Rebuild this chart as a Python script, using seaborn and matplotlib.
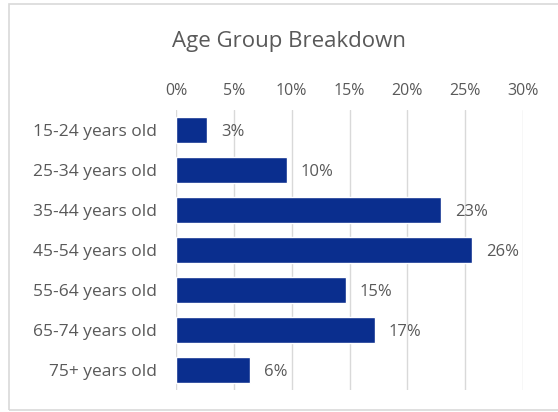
import pandas as pd
import matplotlib.pyplot as plt
import seaborn as sns
from matplotlib.patches import Rectangle

age_groups = ["15-24 years old", "25-34 years old", "35-44 years old",
              "45-54 years old", "55-64 years old", "65-74 years old",
              "75+ years old"]
shares = [2.7, 9.6, 22.9, 25.6, 14.7, 17.2, 6.4]
share_labels = ["3%", "10%", "23%", "26%", "15%", "17%", "6%"]
x_ticks = [0, 5, 10, 15, 20, 25, 30]

df = pd.DataFrame({"group": age_groups, "share": shares})

sns.set_style("white")
plt.rcParams['font.family'] = ['Open Sans', 'DejaVu Sans']

text_color = "#595959"
bar_color = "#0A2E8E"

fig = plt.figure(figsize=(5.58, 4.12), dpi=100)
ax = fig.add_axes([176 / 558, 1 - 390 / 412, 347 / 558, 280 / 412])

sns.barplot(data=df, x="share", y="group", orient="h", color=bar_color,
            saturation=1, width=0.65, ax=ax, zorder=3)

ax.set_xlim(0, 30)
ax.set_xticks(x_ticks)
ax.set_xticklabels([f"{t}%" for t in x_ticks])
ax.xaxis.tick_top()
ax.grid(axis="x", color="#d9d9d9", linewidth=1, zorder=0)
ax.set_axisbelow(True)
for s in ax.spines.values():
    s.set_visible(False)
ax.tick_params(axis="both", length=0, colors=text_color)
ax.tick_params(axis="x", pad=8, labelsize=11.5)
ax.tick_params(axis="y", pad=14, labelsize=12.5)
ax.set_xlabel("")
ax.set_ylabel("")

for i, (v, lab) in enumerate(zip(shares, share_labels)):
    ax.text(v + 1.2, i + 0.05, lab, va="center", ha="left",
            fontsize=12, color=text_color)

fig.text(289 / 558, 1 - 41 / 412, "Age Group Breakdown", ha="center",
         va="center", fontsize=16, color=text_color)

fig.patches.append(Rectangle((9 / 558, 2 / 412), 1.0, 406 / 412,
                             transform=fig.transFigure, fill=False,
                             edgecolor="#d9d9d9", linewidth=1.2))

fig.savefig("out.png", dpi=100)
